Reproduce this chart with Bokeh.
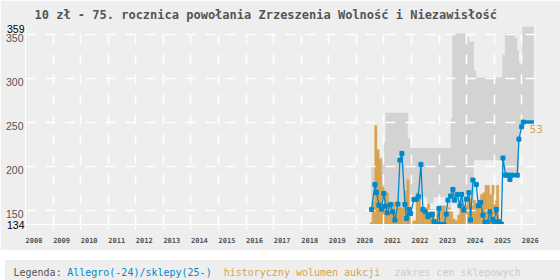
from bokeh.plotting import figure
from bokeh.models import Range1d, FixedTicker, LinearAxis, Div, NumeralTickFormatter
from bokeh.layouts import column
from bokeh.embed import file_html
from bokeh.resources import INLINE

TITLE = "10 zł - 75. rocznica powołania Zrzeszenia Wolność i Niezawisłość"
YEAR_TICKS = list(range(2008, 2027))
PRICE_TICKS = [150, 200, 250, 300, 350]
PRICE_MIN, PRICE_MAX = 134, 359
X_START, X_END = 2008, 2026.5

# Allegro prices (year, zł)
allegro_x = [2020.554, 2020.675, 2020.735, 2020.820, 2020.917, 2021.001, 2021.062, 2021.122,
             2021.243, 2021.316, 2021.401, 2021.509, 2021.582, 2021.655, 2021.763, 2021.824,
             2021.909, 2021.969, 2022.090, 2022.175, 2022.247, 2022.344, 2022.416, 2022.501,
             2022.598, 2022.658, 2022.755, 2022.816, 2022.925, 2022.997, 2023.033, 2023.082,
             2023.179, 2023.263, 2023.324, 2023.420, 2023.505, 2023.566, 2023.662, 2023.759,
             2023.820, 2023.904, 2024.001, 2024.086, 2024.146, 2024.231, 2024.352, 2024.424,
             2024.509, 2024.594, 2024.666, 2024.751, 2024.848, 2024.932, 2024.993, 2025.077,
             2025.150, 2025.259]
allegro_y = [151.1, 179.5, 170.4, 156.0, 151.5, 169.3, 154.9, 147.3,
             156.8, 148.5, 139.0, 157.2, 207.2, 214.8, 156.8, 140.9,
             151.1, 146.6, 162.5, 162.5, 165.5, 202.3, 151.1, 148.5,
             142.8, 144.7, 145.4, 137.1, 134.5, 152.3, 134.0, 134.0,
             134.0, 145.8, 161.7, 166.3, 173.9, 161.7, 168.2, 155.3,
             168.2, 150.4, 162.9, 170.1, 139.0, 184.5, 179.5, 155.3,
             159.1, 144.7, 136.0, 136.0, 148.5, 139.8, 137.1, 151.1,
             137.1, 134.5]

# Shop prices (2025-)
shop_x = [2025.319, 2025.416, 2025.501, 2025.573, 2025.646, 2025.839, 2025.900, 2025.997, 2026.057, 2026.444]
shop_y = [209.5, 190.1, 190.1, 185.2, 190.1, 190.1, 231.0, 245.1, 250.4, 250.4]
shop_flat_x0 = [2025.416, 2025.646, 2026.057]
shop_flat_x1 = [2025.501, 2025.839, 2026.444]
shop_flat_y = [190.1, 190.1, 250.4]

# Monthly auction volume, from July 2020
vol_first_year, vol_first_month = 2020, 7
volumes = [1, 12, 53, 40, 35, 20, 15, 17, 11, 8, 12, 8, 9, 9, 9, 18, 24, 9, 2, 2,
           17, 16, 8, 8, 9, 11, 8, 8, 3, 7, 10, 10, 10, 5, 9, 7, 3, 2, 5, 13,
           9, 10, 13, 14, 10, 13, 11, 13, 16, 17, 21, 21, 16, 21, 13, 21, 2]

# Shop price range (step segments)
band_edges = [2020.54, 2020.86, 2021.00, 2021.06, 2021.87, 2021.95, 2022.57, 2022.80, 2023.35,
              2023.42, 2023.48, 2023.97, 2024.09, 2024.27, 2024.35, 2025.30, 2025.39, 2025.76,
              2025.84, 2025.90, 2025.96, 2026.02, 2026.44]
band_high = [201, 211, 228, 261, 232, 221, 221, 221, 221, 254, 351, 347, 342, 309, 301,
             327, 351, 346, 332, 318, 318, 365]
band_low = [136, 136, 140, 146, 150, 165, 158, 165, 150, 158, 158, 158, 158, 207, 207,
            190, 188, 188, 195, 230, 245, 250]

legend_label = "Legenda:"
legend_texts = ["Allegro(-24)/sklepy(25-)", "historyczny wolumen aukcji", "zakres cen sklepowych"]

BLUE = "#0088cc"
ORANGE = "#d9a24e"
GRAY = "#d3d3d3"
BG = "#eeeeee"
TXT = "#555555"
legend_colors = [BLUE, ORANGE, "#cccccc"]

PX_PER_UNIT = 199 / (PRICE_MAX - PRICE_MIN)
PX_PER_YEAR = 510 / (X_END - X_START)

p = figure(width=560, height=250, x_range=Range1d(X_START, X_END),
           y_range=Range1d(PRICE_MIN, PRICE_MAX), output_backend="svg",
           toolbar_location=None, min_border_left=25, min_border_right=25,
           min_border_top=25, min_border_bottom=26, background_fill_color=BG,
           border_fill_color=BG, outline_line_color=None, title=TITLE)
vol_max = 2 * max(volumes)
p.extra_y_ranges = {"vol": Range1d(0, vol_max)}

p.title.text_font = "DejaVu Sans Mono"
p.title.text_font_style = "bold"
p.title.text_font_size = "12px"
p.title.text_color = TXT
p.title.align = "left"
p.title.offset = 9

# price range band
bx, by = [], []
for i in range(len(band_high)):
    bx += [band_edges[i], band_edges[i + 1]]
    by += [band_high[i], band_high[i]]
for i in reversed(range(len(band_low))):
    bx += [band_edges[i + 1], band_edges[i]]
    by += [band_low[i], band_low[i]]
p.patch(bx, by, fill_color=GRAY, line_color=None, level="image")

# volume bars
vol_x = []
for i in range(len(volumes)):
    m = vol_first_month - 1 + i
    vol_x.append(vol_first_year + m // 12 + (m % 12 + 0.5) / 12)
p.vbar(x=vol_x, top=volumes, bottom=0, width=1 / 12, y_range_name="vol",
       fill_color=ORANGE, line_color=ORANGE, line_width=0.4, level="image")

# grid
for g in (p.xgrid, p.ygrid):
    g.grid_line_color = "white"
    g.grid_line_width = 1.5
    g.grid_line_dash = "10 10"
p.xgrid.ticker = FixedTicker(ticks=YEAR_TICKS)
p.ygrid.ticker = FixedTicker(ticks=PRICE_TICKS)

# x axis: labels start at the year line
x_label_shift = 8.5 / PX_PER_YEAR
xa = p.xaxis[0]
xa.ticker = FixedTicker(ticks=[y + x_label_shift for y in YEAR_TICKS], minor_ticks=YEAR_TICKS)
xa.formatter = NumeralTickFormatter(format="0")
xa.axis_line_color = "white"
xa.major_tick_line_color = None
xa.minor_tick_line_color = "white"
xa.minor_tick_out = 5
xa.minor_tick_in = 0
xa.major_tick_out = 5
xa.major_tick_in = 0
xa.major_label_text_font = "DejaVu Sans Mono"
xa.major_label_text_font_style = "bold"
xa.major_label_text_font_size = "7px"
xa.major_label_text_color = TXT
xa.major_label_standoff = 7

# y axis: labels sit just below their grid line
y_label_shift = 4.0
ya = p.yaxis[0]
ya.ticker = FixedTicker(ticks=[v - y_label_shift for v in PRICE_TICKS])
ya.major_label_overrides = {v - y_label_shift: str(v) for v in PRICE_TICKS}
ya.axis_line_color = "white"
ya.major_tick_line_color = None
ya.major_tick_out = 0
ya.major_tick_in = 0
ya.minor_tick_line_color = None
ya.major_label_text_font = "Liberation Sans"
ya.major_label_text_font_size = "10.5px"
ya.major_label_text_color = TXT
ya.major_label_standoff = 2

# range limits in black: a second left axis whose labels are pulled back
# over the first one (negative standoff, so it adds no width)
ya2 = LinearAxis(ticker=FixedTicker(ticks=[PRICE_MIN, PRICE_MAX - 3.0]),
                 major_label_overrides={PRICE_MIN: str(PRICE_MIN), PRICE_MAX - 3.0: str(PRICE_MAX)})
ya2.axis_line_color = None
ya2.major_tick_line_color = None
ya2.minor_tick_line_color = None
ya2.major_tick_out = 0
ya2.major_tick_in = 0
ya2.major_label_text_font = "Liberation Sans"
ya2.major_label_text_font_size = "10.5px"
ya2.major_label_text_color = "black"
ya2.major_label_standoff = -22
p.add_layout(ya2, "left")

# price line
all_x = allegro_x + shop_x
all_y = allegro_y + shop_y
p.line(all_x, all_y, line_color=BLUE, line_width=1.3)
p.segment(x0=shop_flat_x0, y0=shop_flat_y, x1=shop_flat_x1, y1=shop_flat_y,
          line_color=BLUE, line_width=3.5)
p.scatter(allegro_x, allegro_y, marker="square", size=4, color=BLUE)
p.scatter(shop_x[:-1], shop_y[:-1], marker="square", size=4, color=BLUE)

# max volume label on a right axis
vmax = max(volumes)
vshift = 4.0 * vol_max / 199
va = LinearAxis(y_range_name="vol", ticker=FixedTicker(ticks=[vmax - vshift]),
                major_label_overrides={vmax - vshift: str(vmax)})
va.axis_line_color = None
va.major_tick_line_color = None
va.minor_tick_line_color = None
va.major_tick_out = 0
va.major_tick_in = 0
va.major_label_text_font = "DejaVu Sans"
va.major_label_text_font_size = "10.5px"
va.major_label_text_color = ORANGE
va.major_label_standoff = -6
p.add_layout(va, "right")

# legend strip
spans = f'<span style="color:{TXT}">{legend_label}</span>'
gaps = [5.5, 12, 14]
for t, c, gp in zip(legend_texts, legend_colors, gaps):
    spans += f'<span style="color:{c};margin-left:{gp}px">{t}</span>'
legend = Div(text=spans, width=560, height=25,
             styles={"background-color": BG, "font-family": "DejaVu Sans Mono",
                     "font-size": "10px", "white-space": "pre", "padding-left": "8.5px",
                     "line-height": "25px", "box-sizing": "border-box", "overflow": "hidden"})

layout = column(p, legend, spacing=5)
open("out.html", "w").write(file_html(layout, INLINE))
